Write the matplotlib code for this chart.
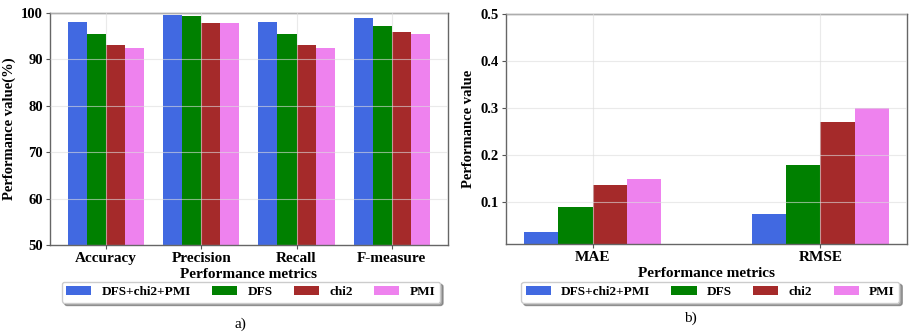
import numpy as np
import matplotlib.pyplot as plt

plt.rcParams['font.family'] = ['Liberation Serif', 'DejaVu Serif']
plt.rcParams['font.weight'] = 'bold'
plt.rcParams['axes.labelweight'] = 'bold'

methods = ["DFS+chi2+PMI", "DFS", "chi2", "PMI"]
colors = ["royalblue", "green", "brown", "violet"]

metrics_a = ["Accuracy", "Precision", "Recall", "F-measure"]
vals_a = {
    "DFS+chi2+PMI": [98.1, 99.6, 98.1, 98.9],
    "DFS": [95.5, 99.3, 95.4, 97.3],
    "chi2": [93.2, 97.9, 93.2, 95.8],
    "PMI": [92.5, 97.9, 92.4, 95.5],
}

metrics_b = ["MAE", "RMSE"]
vals_b = {
    "DFS+chi2+PMI": [0.036, 0.073],
    "DFS": [0.088, 0.178],
    "chi2": [0.136, 0.270],
    "PMI": [0.148, 0.300],
}

fig = plt.figure(figsize=(9.14, 3.35), dpi=100)
ax1 = fig.add_axes([0.0547, 0.2687, 0.4353, 0.6925])
ax2 = fig.add_axes([0.5536, 0.2716, 0.4387, 0.6864])


def draw(ax, metrics, vals, w, ylim, yticks, ylabel, legx):
    x = np.arange(len(metrics))
    for i, m in enumerate(methods):
        ax.bar(x + (i - 1.5) * w, vals[m], w, color=colors[i], label=m, zorder=2)
    ax.set_xticks(x)
    ax.set_xticklabels(metrics, fontsize=11, fontweight='bold')
    ax.set_ylim(*ylim)
    ax.set_yticks(yticks)
    ax.tick_params(axis='y', labelsize=10.5)
    ax.tick_params(length=3, color='#555555', pad=2)
    ax.set_ylabel(ylabel, fontsize=10.5, labelpad=4)
    ax.set_xlabel("Performance metrics", fontsize=11, labelpad=2)
    ax.grid(True, color='#dddddd', linewidth=0.8, alpha=0.6, zorder=3)
    ax.set_axisbelow(False)
    for s in ax.spines.values():
        s.set_color('#666666')
        s.set_linewidth(1.0)
    fig.legend(handles=ax.patches[::len(metrics)], labels=methods, ncol=4,
               loc='center', bbox_to_anchor=(legx, 0.128), fontsize=9.5,
               frameon=True, shadow=True, fancybox=True, handlelength=1.9,
               handleheight=0.6, handletextpad=0.8, columnspacing=1.6,
               borderpad=0.35, edgecolor='#cccccc')


draw(ax1, metrics_a, vals_a, 0.2, (50, 100), [50, 60, 70, 80, 90, 100],
     "Performance value(%)", 0.2746)
draw(ax2, metrics_b, vals_b, 0.15, (0.01, 0.5), [0.1, 0.2, 0.3, 0.4, 0.5],
     "Performance value", 0.777)
ax2.set_yticklabels(["0.1", "0.2", "0.3", "0.4", "0.5"])

fig.text(0.2626, 0.021, "a)", fontsize=11, fontweight='normal', ha='center')
fig.text(0.755, 0.039, "b)", fontsize=11, fontweight='normal', ha='center')

fig.savefig("out.png", dpi=100)
